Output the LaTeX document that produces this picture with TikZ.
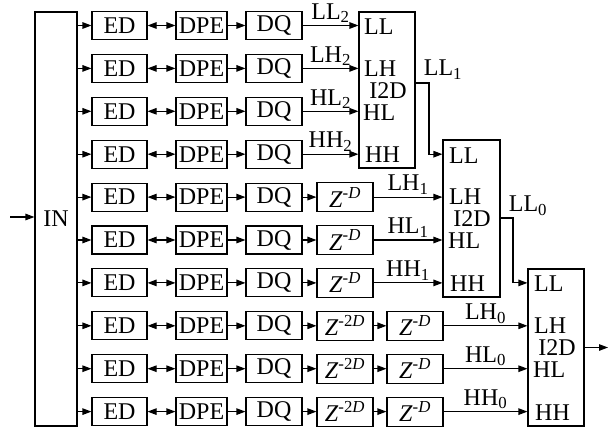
\documentclass[tikz,border=0pt]{standalone}
\usepackage{fontspec}
\setmainfont{Liberation Serif}
\usetikzlibrary{arrows.meta}
\begin{document}
\begin{tikzpicture}[x=1pt,y=-1pt,
  box/.style={draw,line width=1.1pt,inner sep=0pt,minimum height=28pt,font=\fontsize{24}{25}\selectfont},
  arr/.style={line width=1.1pt,-{Triangle[length=9pt,width=6.5pt]}},
  darr/.style={line width=1.1pt,{Triangle[length=9pt,width=6.5pt]}-{Triangle[length=9pt,width=6.5pt]}},
  lbl/.style={inner sep=0pt,font=\fontsize{24}{25}\selectfont},
  inl/.style={lbl,text height=16pt,text depth=0pt},
]
\useasboundingbox (0,0) rectangle (609,434);
\node[box,minimum width=42pt,minimum height=414pt] (IN) at (56,219) {IN};
\foreach \i in {1,...,10}{
  \pgfmathsetmacro\yy{25.5+42.9*(\i-1)}
  \node[box,minimum width=55pt] (ed\i) at (119.5,\yy) {ED};
  \node[box,minimum width=51pt] (dpe\i) at (201.5,\yy) {DPE};
  \node[box,minimum width=56pt] (dq\i) at (274,\yy) {DQ};
  \draw[arr] (IN.east |- ed\i) -- (ed\i);
  \draw[darr] (ed\i) -- (dpe\i);
  \draw[arr] (dpe\i) -- (dq\i);
}
% I2D boxes
\node[box,minimum width=56pt,minimum height=156pt] (I2Da) at (387,90) {};
\node[box,minimum width=57pt,minimum height=157pt] (I2Db) at (471.5,218.5) {};
\node[box,minimum width=56pt,minimum height=157pt] (I2Dc) at (556,347.5) {};
% inner labels box a
\node[inl,anchor=west] (aLL) at (364,26.5) {LL};
\node[inl,anchor=west] (aLH) at (364,68) {LH};
\node[inl] (aI) at (388,90) {I2D};
\node[inl,anchor=west] (aHL) at (363,112) {HL};
\node[inl,anchor=west] (aHH) at (365,154.5) {HH};
% inner labels box b
\node[inl,anchor=west] (bLL) at (449,155) {LL};
\node[inl,anchor=west] (bLH) at (449,196.6) {LH};
\node[inl] (bI) at (472,218.5) {I2D};
\node[inl,anchor=west] (bHL) at (448,240.5) {HL};
\node[inl,anchor=west] (bHH) at (450,283.3) {HH};
% inner labels box c
\node[inl,anchor=west] (cLL) at (534,283.8) {LL};
\node[inl,anchor=west] (cLH) at (534,325.3) {LH};
\node[inl] (cI) at (557,347.5) {I2D};
\node[inl,anchor=west] (cHL) at (533,369.2) {HL};
\node[inl,anchor=west] (cHH) at (535,412) {HH};
% delay boxes
\foreach \i in {5,6,7}{
  \pgfmathsetmacro\yy{25.5+42.9*(\i-1)}
  \node[box,minimum width=56pt,minimum height=29pt] (z\i) at (345,\yy) {\textit{Z}\textsuperscript{\textit{-D}}};
  \draw[arr] (dq\i) -- (z\i);
}
\foreach \i in {8,9,10}{
  \pgfmathsetmacro\yy{25.5+42.9*(\i-1)}
  \node[box,minimum width=56pt,minimum height=29pt] (zz\i) at (345,\yy) {\textit{Z}\textsuperscript{-2\textit{D}}};
  \node[box,minimum width=56pt,minimum height=29pt] (z\i) at (415,\yy) {\textit{Z}\textsuperscript{\textit{-D}}};
  \draw[arr] (dq\i) -- (zz\i);
  \draw[arr] (zz\i) -- (z\i);
}
% level 2 inputs
\draw[arr] (dq1) -- (dq1 -| I2Da.west) node[midway,above=2pt,lbl] {LL\textsubscript{2}};
\draw[arr] (dq2) -- (dq2 -| I2Da.west) node[midway,above=2pt,lbl] {LH\textsubscript{2}};
\draw[arr] (dq3) -- (dq3 -| I2Da.west) node[midway,above=2pt,lbl] {HL\textsubscript{2}};
\draw[arr] (dq4) -- (dq4 -| I2Da.west) node[midway,above=2pt,lbl] {HH\textsubscript{2}};
% level 1 inputs
\draw[arr] (z5) -- (z5 -| I2Db.west) node[midway,above=2pt,lbl] {LH\textsubscript{1}};
\draw[arr] (z6) -- (z6 -| I2Db.west) node[midway,above=2pt,lbl] {HL\textsubscript{1}};
\draw[arr] (z7) -- (z7 -| I2Db.west) node[midway,above=2pt,lbl] {HH\textsubscript{1}};
% level 0 inputs
\draw[arr] (z8) -- (z8 -| I2Dc.west) node[midway,above=2pt,lbl] {LH\textsubscript{0}};
\draw[arr] (z9) -- (z9 -| I2Dc.west) node[midway,above=2pt,lbl] {HL\textsubscript{0}};
\draw[arr] (z10) -- (z10 -| I2Dc.west) node[midway,above=2pt,lbl] {HH\textsubscript{0}};
% LL1, LL0 links
\coordinate (k1) at (429,83);
\draw[arr] (I2Da.east |- k1) -- (k1) |- (I2Db.west |- ed4);
\node[lbl] (ll1) at (443,70) {LL\textsubscript{1}};
\coordinate (k0) at (513,218);
\draw[arr] (I2Db.east |- k0) -- (k0) |- (I2Dc.west |- ed7);
\node[lbl] (ll0) at (528,206) {LL\textsubscript{0}};
% in / out
\coordinate (inp) at (10,217);
\draw[arr] (inp) -- (inp -| IN.west);
\coordinate (outp) at (608,347.5);
\draw[arr] (I2Dc.east) -- (outp);
\end{tikzpicture}
\end{document}
